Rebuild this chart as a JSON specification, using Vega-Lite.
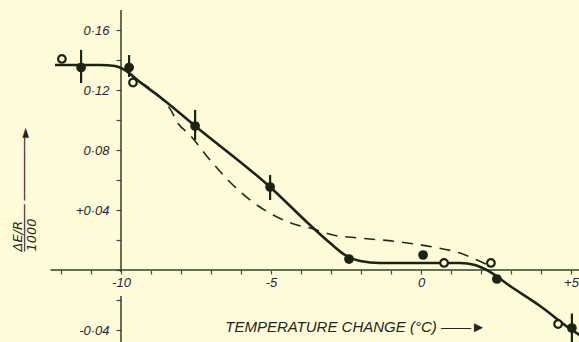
{
  "$schema": "https://vega.github.io/schema/vega-lite/v6.json",
  "width": 579,
  "height": 342,
  "autosize": "none",
  "padding": 0,
  "background": "#fefbd9",
  "config": {
    "view": {"stroke": null},
    "axis": {
      "grid": false,
      "domain": false,
      "labelFont": "Liberation Sans",
      "labelFontStyle": "italic",
      "labelFontSize": 13,
      "labelColor": "#2b2430",
      "tickColor": "#6a2d62",
      "tickWidth": 1.2,
      "labelOverlap": false,
      "labelFlush": false,
      "titleFont": "Liberation Sans",
      "titleFontStyle": "italic",
      "titleFontWeight": "normal",
      "titleColor": "#26241c"
    }
  },
  "datasets": {
    "axislines": [
      {"x": -12.35, "y": 0, "x2": 5.3, "y2": 0},
      {"x": -10, "y": 0.1733, "x2": -10, "y2": -0.0013},
      {"x": -10, "y": -0.0173, "x2": -10, "y2": -0.05}
    ],
    "solid": [
      {"x": -12.2, "y": 0.1367}, {"x": -10.7, "y": 0.1367}, {"x": -10.2, "y": 0.136},
      {"x": -9.87, "y": 0.1333}, {"x": -9.37, "y": 0.1253}, {"x": -8.7, "y": 0.1153},
      {"x": -7.53, "y": 0.096}, {"x": -5.03, "y": 0.0553}, {"x": -3.7, "y": 0.03},
      {"x": -3.03, "y": 0.018}, {"x": -2.53, "y": 0.01}, {"x": -2.03, "y": 0.006},
      {"x": -1.37, "y": 0.0047}, {"x": -0.03, "y": 0.0047}, {"x": 1.3, "y": 0.0047},
      {"x": 1.8, "y": 0.0033}, {"x": 2.3, "y": -0.0013}, {"x": 2.97, "y": -0.0107},
      {"x": 3.97, "y": -0.024}, {"x": 5.03, "y": -0.04}, {"x": 5.3, "y": -0.0435}
    ],
    "dashed": [
      {"x": -9.37, "y": 0.1253}, {"x": -8.7, "y": 0.1153}, {"x": -8.3, "y": 0.1053},
      {"x": -8.13, "y": 0.0987}, {"x": -7.7, "y": 0.09}, {"x": -7.03, "y": 0.0733},
      {"x": -6.37, "y": 0.0587}, {"x": -5.7, "y": 0.0467}, {"x": -4.93, "y": 0.0367},
      {"x": -4.13, "y": 0.03}, {"x": -3.7, "y": 0.028}, {"x": -2.93, "y": 0.0233},
      {"x": -2.03, "y": 0.0213}, {"x": -0.7, "y": 0.0187}, {"x": 0.4, "y": 0.0153},
      {"x": 1.3, "y": 0.0113}, {"x": 1.87, "y": 0.0067}, {"x": 2.3, "y": 0.0027}
    ],
    "filled": [
      {"x": -11.33, "y": 0.135, "lo": 0.1247, "hi": 0.1467},
      {"x": -9.73, "y": 0.135, "lo": 0.1287, "hi": 0.1433},
      {"x": -7.53, "y": 0.096, "lo": 0.0867, "hi": 0.1067},
      {"x": -5.03, "y": 0.0553, "lo": 0.0467, "hi": 0.0633},
      {"x": -2.4, "y": 0.0073, "lo": 0.0073, "hi": 0.0073},
      {"x": 0.07, "y": 0.01, "lo": 0.01, "hi": 0.01},
      {"x": 2.53, "y": -0.006, "lo": -0.006, "hi": -0.006},
      {"x": 5.03, "y": -0.0387, "lo": -0.05, "hi": -0.029}
    ],
    "open": [
      {"x": -11.97, "y": 0.1407},
      {"x": -9.6, "y": 0.125},
      {"x": 0.77, "y": 0.0047},
      {"x": 2.33, "y": 0.0047},
      {"x": 4.57, "y": -0.036}
    ]
  },
  "encoding": {
    "x": {
      "field": "x",
      "type": "quantitative",
      "scale": {"domain": [-14.033, 5.267], "nice": false, "zero": false},
      "axis": {
        "orient": "bottom",
        "offset": -72,
        "values": [-12, -11, -10, -9, -8, -7, -6, -5, -4, -3, -2, -1, 0, 1, 2, 3, 4, 5],
        "labelExpr": "datum.value == -10 ? '-10' : datum.value == -5 ? '-5' : datum.value == 0 ? '0' : datum.value == 5 ? '+5' : ''",
        "tickSize": 4,
        "labelPadding": 2,
        "title": "TEMPERATURE   CHANGE (°C) ——►",
        "titleFontSize": 15,
        "titleX": 355,
        "titleY": 56,
        "titleAlign": "center",
        "titleBaseline": "middle",
        "titleAnchor": null
      }
    },
    "y": {
      "field": "y",
      "type": "quantitative",
      "scale": {"domain": [-0.048, 0.18], "nice": false, "zero": false},
      "axis": {
        "orient": "left",
        "offset": -121,
        "values": [-0.04, -0.02, 0, 0.02, 0.04, 0.06, 0.08, 0.1, 0.12, 0.14, 0.16],
        "labelExpr": "datum.value == 0.16 ? '0·16' : datum.value == 0.12 ? '0·12' : datum.value == 0.08 ? '0·08' : datum.value == 0.04 ? '+0·04' : datum.value == -0.04 ? '-0·04' : ''",
        "tickSize": 5,
        "labelPadding": 7,
        "title": ["ΔE/R", "──────   ────────►", "1000"],
        "titleFont": "DejaVu Sans",
        "titleFontSize": 13,
        "titleLineHeight": 7,
        "titleAngle": -90,
        "titleX": -100,
        "titleY": 251,
        "titleAlign": "left",
        "titleBaseline": "alphabetic",
        "titleAnchor": null
      }
    }
  },
  "layer": [
    {
      "data": {"name": "axislines"},
      "mark": {"type": "rule", "strokeWidth": 1.5, "color": "#2f4428"},
      "encoding": {
        "x2": {"field": "x2"},
        "y2": {"field": "y2"}
      }
    },
    {
      "data": {"name": "dashed"},
      "mark": {"type": "line", "interpolate": "monotone", "strokeWidth": 1.6, "strokeDash": [11, 8], "color": "#232a1c"}
    },
    {
      "data": {"name": "solid"},
      "mark": {"type": "line", "interpolate": "monotone", "strokeWidth": 2.6, "color": "#1b2414"}
    },
    {
      "data": {"name": "filled"},
      "mark": {"type": "rule", "strokeWidth": 2.2, "color": "#1b2414"},
      "encoding": {
        "y": {"field": "lo", "type": "quantitative"},
        "y2": {"field": "hi"}
      }
    },
    {
      "data": {"name": "filled"},
      "mark": {"type": "circle", "size": 95, "opacity": 1, "color": "#1b2414"}
    },
    {
      "data": {"name": "open"},
      "mark": {"type": "point", "shape": "circle", "size": 58, "strokeWidth": 2.2, "filled": false, "opacity": 1, "color": "#1b2414", "fill": "#fefbd9"}
    }
  ]
}
